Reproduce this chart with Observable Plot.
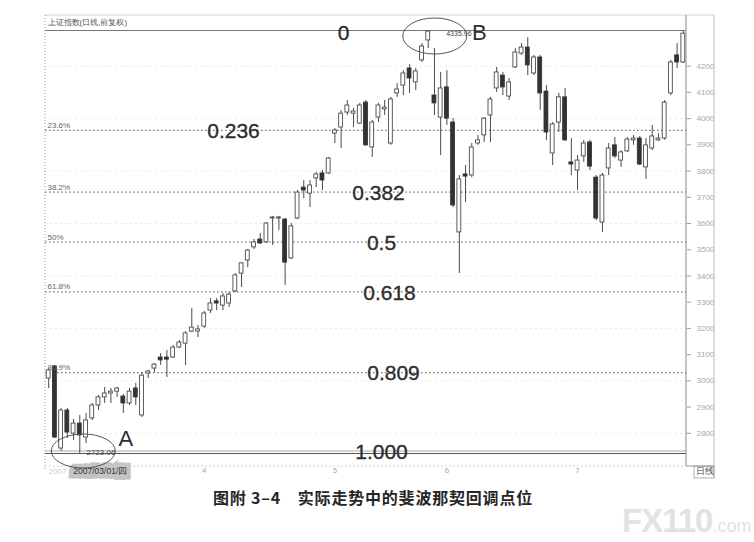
<!DOCTYPE html>
<html><head><meta charset="utf-8">
<script src="https://cdn.jsdelivr.net/npm/d3@7"></script>
<script src="https://cdn.jsdelivr.net/npm/@observablehq/plot@0.6"></script>
<style>
body{margin:0;background:#fff;}
#wrap{position:relative;width:754px;height:542px;overflow:hidden;background:#fff;font-family:"Liberation Sans",Arial,sans-serif;}
#chart{position:absolute;left:0;top:0;}
#chart svg{font-family:"Liberation Sans",Arial,sans-serif;}
g[aria-label^="y-axis"]{color:#9a9a9a;}
g[aria-label^="y-axis"] text{fill:#a8a8a8;font-size:8px;}
#caption{position:absolute;left:213px;top:488px;font-family:"Noto Sans CJK SC",sans-serif;font-weight:700;font-size:16px;letter-spacing:0.8px;color:#262626;white-space:pre;line-height:18px;}
#wm{position:absolute;left:622px;top:502px;font-family:"Liberation Sans",Arial,sans-serif;font-weight:700;color:#e2e2e2;white-space:nowrap;}
#wm .big{font-size:33px;letter-spacing:-1px;}
#wm .small{font-size:18px;font-weight:400;}
</style></head>
<body>
<div id="wrap">
<div id="chart"></div>
<div id="caption">图附 3–4　实际走势中的斐波那契回调点位</div>
<div id="wm"><span class="big">FX110</span><span class="small">.com</span></div>
</div>
<script>
// ---- data (Shanghai Composite, daily, 2007) ----
const dates = [
"2007-02-26","2007-02-27","2007-02-28",
"2007-03-01","2007-03-02","2007-03-05","2007-03-06","2007-03-07","2007-03-08","2007-03-09","2007-03-12","2007-03-13","2007-03-14","2007-03-15","2007-03-16","2007-03-19","2007-03-20","2007-03-21","2007-03-22","2007-03-23","2007-03-26","2007-03-27","2007-03-28","2007-03-29","2007-03-30",
"2007-04-02","2007-04-03","2007-04-04","2007-04-05","2007-04-06","2007-04-09","2007-04-10","2007-04-11","2007-04-12","2007-04-13","2007-04-16","2007-04-17","2007-04-18","2007-04-19","2007-04-20","2007-04-23","2007-04-24","2007-04-25","2007-04-26","2007-04-27","2007-04-30",
"2007-05-08","2007-05-09","2007-05-10","2007-05-11","2007-05-14","2007-05-15","2007-05-16","2007-05-17","2007-05-18","2007-05-21","2007-05-22","2007-05-23","2007-05-24","2007-05-25","2007-05-28","2007-05-29","2007-05-30","2007-05-31",
"2007-06-01","2007-06-04","2007-06-05","2007-06-06","2007-06-07","2007-06-08","2007-06-11","2007-06-12","2007-06-13","2007-06-14","2007-06-15","2007-06-18","2007-06-19","2007-06-20","2007-06-21","2007-06-22","2007-06-25","2007-06-26","2007-06-27","2007-06-28","2007-06-29",
"2007-07-02","2007-07-03","2007-07-04","2007-07-05","2007-07-06","2007-07-09","2007-07-10","2007-07-11","2007-07-12","2007-07-13","2007-07-16","2007-07-17","2007-07-18","2007-07-19","2007-07-20","2007-07-23","2007-07-24","2007-07-25"];
const open = [3009,3055,2742,2887,2799,2837,2784,2857,2906,2937,2952,2959,2940,2914,2971,2868,3028,3047,3089,3089,3089,3127,3142,3188,3188,3207,3268,3303,3287,3295,3341,3409,3459,3509,3539,3528,3619,3619,3615,3467,3619,3737,3714,3772,3791,3791,3943,3966,4023,4019,3981,4061,3890,4004,4035,3905,4096,4126,4191,4138,4222,4298,4088,4004,4119,3985,3566,3787,3783,3905,3936,4012,4115,4164,4084,4195,4248,4271,4172,4233,4103,3867,3985,4081,3833,3802,3856,3909,3775,3604,3810,3898,3840,3875,3917,3924,3814,3886,3917,3924,4096,4241,4214];
const high = [3047,3059,2895,2895,2853,2868,2876,2914,2944,2975,2971,2975,2948,2971,2990,3032,3040,3066,3104,3116,3135,3154,3188,3276,3211,3265,3314,3314,3333,3337,3409,3451,3501,3539,3562,3604,3627,3627,3619,3600,3726,3764,3764,3795,3802,3852,3962,4031,4069,4039,4058,4069,3993,4058,4069,4081,4134,4183,4206,4191,4286,4335.96,4267,4176,4183,4000,3783,3821,3905,3936,4004,4081,4195,4176,4153,4267,4286,4309,4241,4241,4126,3985,4096,4115,3924,3859,3917,3917,3783,3791,3905,3928,3878,3928,3936,3932,3924,3974,3943,4069,4222,4286,4332];
const low = [2971,2780,2731,2780,2773,2723.06,2761,2849,2887,2914,2914,2937,2876,2906,2906,2860,3009,3032,3059,3013,3085,3123,3059,3184,3165,3200,3257,3268,3268,3280,3337,3356,3432,3501,3520,3524,3516,3573,3364,3463,3615,3695,3661,3737,3726,3787,3905,3886,4012,3966,3978,3894,3852,3985,4012,3898,4081,4088,4096,4107,4214,4267,4012,3859,3974,3661,3409,3680,3775,3898,3909,3909,4100,4088,4069,4191,4241,4164,4164,4031,3917,3821,3947,3913,3783,3726,3833,3802,3611,3566,3783,3848,3814,3871,3898,3821,3768,3878,3913,3917,4088,4191,4210];
const close = [3040,2784,2887,2803,2837,2792,2849,2906,2937,2952,2959,2971,2914,2959,2937,3020,3036,3062,3078,3081,3127,3146,3181,3203,3196,3257,3295,3295,3322,3329,3402,3448,3497,3528,3524,3600,3623,3623,3451,3589,3718,3726,3745,3787,3764,3848,3955,4019,4050,4027,4050,3898,3985,4050,4042,4073,4111,4172,4153,4180,4275,4332,4058,4115,4000,3669,3768,3779,3890,3917,4000,4073,4176,4119,4138,4252,4271,4203,4233,4096,3947,3978,4081,3917,3825,3840,3905,3817,3619,3783,3886,3856,3871,3920,3924,3825,3898,3932,3924,4061,4214,4214,4324];

const highPoint = 4335.96, lowPoint = 2723.06;
const fibRatios = [0, 0.236, 0.382, 0.5, 0.618, 0.809, 1];
const fibBigLabels = ["0", "0.236", "0.382", "0.5", "0.618", "0.809", "1.000"];
const fibPctLabels = ["", "23.6%", "38.2%", "50%", "61.8%", "80.9%", ""];
const yTicks = [2800,2900,3000,3100,3200,3300,3400,3500,3600,3700,3800,3900,4000,4100,4200];
const gridVals = [2800,3000,3200,3400,3600,3800,4000,4200];
const monthTicks = ["2007-04-02","2007-05-08","2007-06-01","2007-07-02"];
const monthLabels = ["4","5","6","7"];
const chartTitle = "上证指数(日线,前复权)";

// ---- derived tables ----
const candles = dates.map((d,i)=>({date:d, open:open[i], high:high[i], low:low[i], close:close[i]}));
const up = candles.filter(d=>d.close>=d.open);
const down = candles.filter(d=>d.close<d.open);
const fib = fibRatios.map((r,i)=>({ratio:r, price: highPoint - r*(highPoint-lowPoint), big:fibBigLabels[i], pct:fibPctLabels[i]}));
const mid = fib.filter(f=>f.ratio>0 && f.ratio<1);
const peak = candles.find(d=>d.high===highPoint);
const trough = candles.find(d=>d.low===lowPoint);

const bigDx = [298,188,333,336,344,348,336];
const bigDy = [3,1,1,1,1,1,-1];

const marks = [
  Plot.ruleY(gridVals, {stroke:"#e9e9e9", strokeDasharray:"2,3"}),
  Plot.ruleY(mid, {y:"price", stroke:"#555", strokeWidth:1, strokeDasharray:"1.6,2.4"}),
  Plot.ruleY([highPoint], {stroke:"#777", strokeWidth:1}),
  Plot.ruleY([lowPoint], {stroke:"#555", strokeWidth:1.2}),
  Plot.ruleY([lowPoint], {stroke:"#aaa", strokeWidth:1, dy:-2.5}),
  Plot.ruleX(candles, {x:"date", y1:"low", y2:"high", stroke:"#4a4a4a", strokeWidth:1}),
  Plot.barY(up, {x:"date", y1:"open", y2:"close", fill:"#fff", stroke:"#4a4a4a", strokeWidth:0.9}),
  Plot.barY(down, {x:"date", y1:"open", y2:"close", fill:"#333", stroke:"#333", strokeWidth:0.9}),
  Plot.text(mid, {y:"price", text:"pct", frameAnchor:"left", dx:2, dy:-5, textAnchor:"start", fontSize:8, fill:"#666"}),
  ...fib.map((f,i)=>Plot.text([f], {y:"price", text:"big", frameAnchor:"left", dx:bigDx[i], dy:bigDy[i], textAnchor:"middle", lineAnchor:"middle", fontSize:21, fill:"#2e2e2e", stroke:"#2e2e2e", strokeWidth:0.35})),
  Plot.text([peak], {x:"date", y:"high", text:()=>"4335.96", dx:18, dy:3, textAnchor:"start", fontSize:7, fill:"#444"}),
  Plot.text([peak], {x:"date", y:"high", text:()=>"B", dx:51, dy:2, textAnchor:"middle", lineAnchor:"middle", fontSize:22, fill:"#2e2e2e"}),
  Plot.text([trough], {x:"date", y:"low", text:()=>"-2723.06", dx:4, dy:-1, textAnchor:"start", fontSize:8, fill:"#444"}),
  Plot.text([trough], {x:"date", y:"low", text:()=>"A", dx:46, dy:-15, textAnchor:"middle", lineAnchor:"middle", fontSize:22, fill:"#2e2e2e"}),
  Plot.text([chartTitle], {frameAnchor:"top-left", dx:2, dy:-8, textAnchor:"start", lineAnchor:"middle", fontSize:8, fill:"#555"}),
  Plot.text(monthTicks, {x:d=>d, text:(d,i)=>monthLabels[i], frameAnchor:"bottom", dy:17, lineAnchor:"middle", fontSize:8, fill:"#aaa"}),
  Plot.text(["2007"], {frameAnchor:"bottom-left", dx:12, dy:18, textAnchor:"middle", lineAnchor:"middle", fontSize:8, fill:"#ccc"}),
  Plot.text(["2007-03-01"], {x:d=>d, text:()=>"2007/03/01/四", dx:6, frameAnchor:"bottom", dy:18, textAnchor:"start", lineAnchor:"middle", fontSize:8.5, fill:"#333", stroke:"#c4c4c4", strokeWidth:9, strokeLinejoin:"miter"}),
  Plot.text(["日线"], {frameAnchor:"bottom-right", dx:18, dy:18, textAnchor:"middle", lineAnchor:"middle", fontSize:9, fill:"#444"})
];

const svg = Plot.plot({
  width:754, height:482,
  marginTop:30, marginBottom:29, marginLeft:45, marginRight:68,
  style:{background:"transparent", overflow:"visible"},
  x:{type:"band", domain:dates, paddingInner:0.38, paddingOuter:0.2, round:false, axis:null},
  y:{domain:[lowPoint, highPoint], axis:"right", ticks:yTicks, tickSize:4, tickPadding:6, tickFormat:d=>String(d), label:null},
  marks
});
document.getElementById("chart").appendChild(svg);

// ---- decorations positioned through the plot's scales ----
const xs = svg.scale("x"), ys = svg.scale("y");
const bw = xs.bandwidth || 0;
const sel = d3.select(svg);
const L0 = 45, R0 = 754-68;
const yTop = ys.apply(highPoint), yBot = ys.apply(lowPoint);
sel.append("line").attr("x1",L0).attr("x2",R0+28).attr("y1",yTop-15).attr("y2",yTop-15).attr("stroke","#d6d6d6");
sel.append("line").attr("x1",L0).attr("x2",L0).attr("y1",yTop-15).attr("y2",yBot+18).attr("stroke","#999").attr("stroke-dasharray","1,2");
sel.append("line").attr("x1",R0).attr("x2",R0).attr("y1",yTop-15).attr("y2",yBot+13).attr("stroke","#8a8a8a");
sel.append("line").attr("x1",R0+28).attr("x2",R0+28).attr("y1",yTop-15).attr("y2",yBot+25).attr("stroke","#bbb");
sel.append("line").attr("x1",L0).attr("x2",R0).attr("y1",yBot+13).attr("y2",yBot+13).attr("stroke","#cfcfcf").attr("stroke-dasharray","2,2");
sel.append("line").attr("x1",R0).attr("x2",R0+28).attr("y1",yBot+13).attr("y2",yBot+13).attr("stroke","#999");
sel.append("rect").attr("x",R0+8).attr("y",yBot+13).attr("width",20).attr("height",12).attr("fill","none").attr("stroke","#999").attr("stroke-width",0.8);
const px = xs.apply(peak.date) + bw/2, py = ys.apply(peak.high);
sel.append("ellipse").attr("cx",px+7).attr("cy",py+6).attr("rx",32).attr("ry",18).attr("fill","none").attr("stroke","#555").attr("stroke-width",1);
const tx = xs.apply(trough.date) + bw/2, ty = ys.apply(trough.low);
sel.append("ellipse").attr("cx",tx+4).attr("cy",ty-2).attr("rx",32).attr("ry",17).attr("fill","none").attr("stroke","#555").attr("stroke-width",1);
</script>
</body></html>
